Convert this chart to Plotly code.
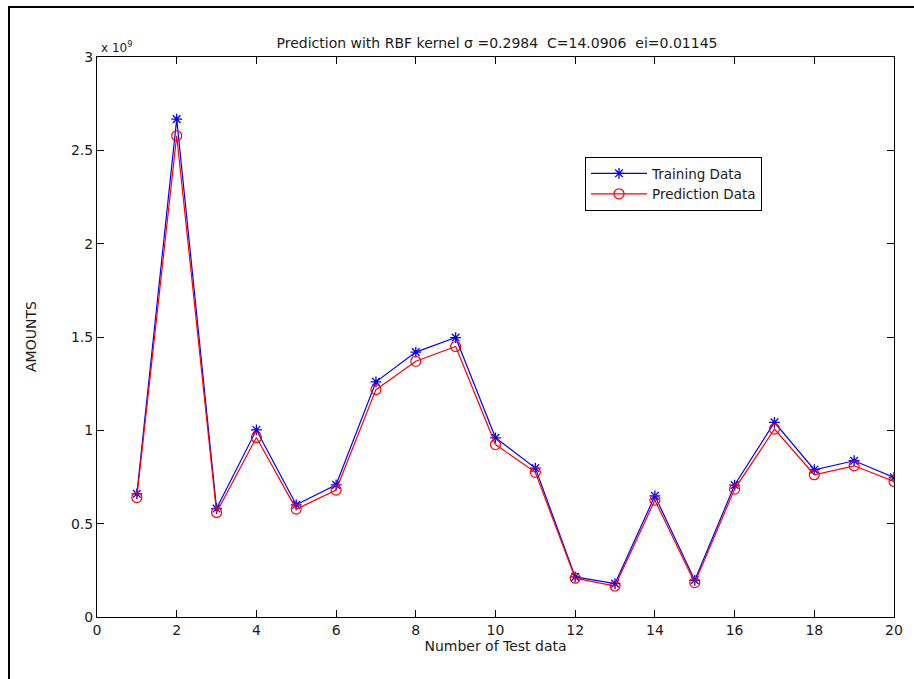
import plotly.graph_objects as go

# Data (values in units of 1e9)
test_index = list(range(1, 21))
training_data = [0.66, 2.667, 0.581, 1.002, 0.601, 0.708, 1.26, 1.419, 1.497, 0.96,
                 0.798, 0.215, 0.179, 0.649, 0.197, 0.707, 1.043, 0.789, 0.837, 0.748]
prediction_data = [0.64, 2.578, 0.56, 0.962, 0.578, 0.68, 1.218, 1.37, 1.449, 0.924,
                   0.775, 0.208, 0.166, 0.626, 0.184, 0.685, 1.007, 0.762, 0.81, 0.726]
x_ticks = [0, 2, 4, 6, 8, 10, 12, 14, 16, 18, 20]
y_ticks = [0, 0.5, 1, 1.5, 2, 2.5, 3]
y_tick_labels = ["0", "0.5", "1", "1.5", "2", "2.5", "3"]

FONT = "DejaVu Sans, Liberation Sans, Arial, sans-serif"
FS = 14
TXT = "#1a1a1a"

fig = go.Figure()
fig.add_trace(go.Scatter(
    x=test_index, y=training_data, mode="lines+markers", name="Training Data",
    line=dict(color="#0000ff", width=1.2),
    marker=dict(symbol="asterisk-open", size=9, color="#0000ff",
                line=dict(color="#0000ff", width=1.3)),
))
fig.add_trace(go.Scatter(
    x=test_index, y=prediction_data, mode="lines+markers", name="Prediction Data",
    line=dict(color="#ff0000", width=1.2),
    marker=dict(symbol="circle-open", size=10, color="#ff0000",
                line=dict(color="#ff0000", width=1.2)),
))

L, R, T, B = 97, 894, 57, 617
W, H = 914, 679
pw, ph = R - L, B - T


def px(x):
    return (x - L) / pw


def py(y):
    return (B - y) / ph


fig.update_layout(
    width=W, height=H, autosize=False,
    margin=dict(l=L, r=W - R, t=T, b=H - B, pad=0),
    paper_bgcolor="white", plot_bgcolor="white",
    font=dict(family=FONT, size=FS, color=TXT),
    title=dict(text="Prediction with RBF kernel σ =0.2984  C=14.0906  ei=0.01145",
               x=px(497), xref="paper", xanchor="center",
               y=1 - 43 / H, yanchor="middle",
               font=dict(family=FONT, size=FS, color=TXT)),
    showlegend=True,
    legend=dict(x=px(585), y=py(157), xanchor="left", yanchor="top",
                bgcolor="white", bordercolor="black", borderwidth=1,
                font=dict(family=FONT, size=FS - 0.5, color=TXT),
                tracegroupgap=0, itemwidth=56),
    xaxis=dict(range=[0, 20], tickvals=x_ticks, ticks="inside", ticklen=7,
               tickcolor="black", showline=True, linecolor="black", linewidth=1,
               mirror="allticks", showgrid=False, zeroline=False,
               tickfont=dict(family=FONT, size=FS, color=TXT),
               title=dict(text="Number of Test data", standoff=4,
                          font=dict(family=FONT, size=FS, color=TXT))),
    yaxis=dict(range=[0, 3], tickvals=y_ticks, ticktext=y_tick_labels,
               ticks="inside", ticklen=7, tickcolor="black", showline=True,
               linecolor="black", linewidth=1, mirror="allticks",
               showgrid=False, zeroline=False,
               tickfont=dict(family=FONT, size=FS, color=TXT)),
    annotations=[
        dict(text="x 10<sup>9</sup>", xref="paper", yref="paper",
             x=px(99), y=py(47), xanchor="left", yanchor="middle",
             showarrow=False, font=dict(family=FONT, size=FS - 2, color=TXT)),
        dict(text="AMOUNTS", xref="paper", yref="paper",
             x=px(31), y=py(337), xanchor="center", yanchor="middle",
             textangle=-90, showarrow=False,
             font=dict(family=FONT, size=FS, color=TXT)),
    ],
    shapes=[dict(type="rect", xref="paper", yref="paper",
                 x0=px(9), x1=px(930), y0=py(700), y1=py(7),
                 line=dict(color="black", width=2), layer="above")],
)

fig.write_html("out.html",
               config={"displayModeBar": False},
               post_script="document.body.style.margin='0px';"
                           "document.body.style.overflow='hidden';")
